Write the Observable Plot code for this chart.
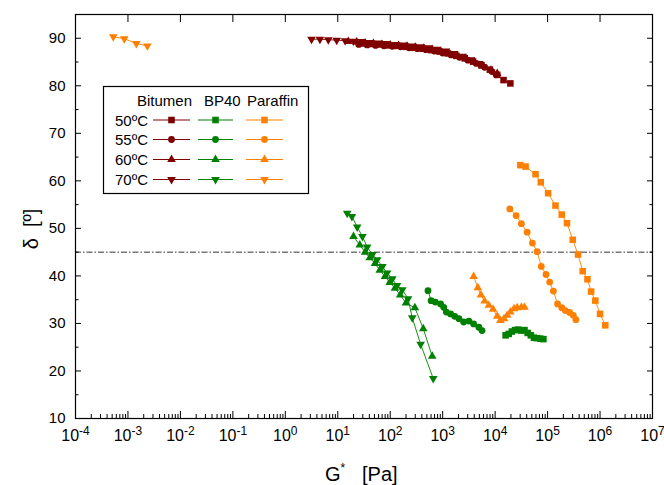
<!DOCTYPE html>
<html><head><meta charset="utf-8">
<script src="https://cdn.jsdelivr.net/npm/d3@7"></script>
<script src="https://cdn.jsdelivr.net/npm/@observablehq/plot@0.6"></script>
<style>
body{margin:0;background:#fff;font-family:"Liberation Sans",Arial,sans-serif;}
#chart{position:relative;width:664px;height:485px;}
</style></head><body><div id="chart"></div>
<script>
const materials = ["Bitumen", "BP40", "Paraffin"];
const temperatures = ["50ºC", "55ºC", "60ºC", "70ºC"];
const materialColors = ["#800000", "#008000", "#ff8000"];

// log10(G* [Pa]) and phase angle δ [º]
const bit50_logG = [1.50,1.66,1.82,1.98,2.14,2.30,2.46,2.62,2.78,2.94,3.10,3.26,3.42,3.58,3.74,3.90,4.04,4.16,4.29];
const bit50_delta = [88.9,88.8,88.7,88.5,88.4,88.2,88.0,87.8,87.5,87.2,86.8,86.3,85.8,85.1,84.3,83.4,82.3,81.2,80.5];
const bit55_logG = [1.40,1.56,1.72,1.88,2.04,2.20,2.36,2.52,2.68,2.84,3.00,3.16,3.32,3.48,3.64,3.80,3.94,4.02];
const bit55_delta = [88.7,88.6,88.5,88.4,88.3,88.2,88.0,87.8,87.6,87.3,86.9,86.5,86.0,85.4,84.7,83.9,83.0,82.3];
const bit60_logG = [1.20,1.36,1.52,1.68,1.84,2.00,2.16,2.32,2.48,2.64,2.80,2.96,3.12,3.28,3.44,3.60,3.76,3.92,4.04];
const bit60_delta = [89.3,89.2,89.0,88.9,88.7,88.6,88.5,88.3,88.1,87.9,87.6,87.2,86.8,86.3,85.7,85.0,84.2,83.3,82.6];
const bit70_logG = [0.50,0.66,0.82,0.98,1.14,1.30,1.46,1.62,1.78,1.94,2.10,2.26,2.42,2.58,2.74,2.90,3.06,3.22,3.38,3.54,3.70];
const bit70_delta = [89.8,89.8,89.7,89.6,89.5,89.4,89.3,89.1,89.0,88.9,88.7,88.6,88.4,88.2,88.0,87.7,87.3,86.8,86.2,85.5,84.7];

const bp50_logG = [4.20,4.26,4.32,4.38,4.44,4.50,4.56,4.62,4.68,4.74,4.80,4.86,4.92];
const bp50_delta = [27.5,27.8,28.3,28.6,28.7,28.5,28.6,28.0,27.5,27.0,26.9,26.8,26.7];
const bp55_logG = [2.72,2.78,2.86,2.96,3.02,3.07,3.15,3.23,3.31,3.40,3.50,3.59,3.69,3.75];
const bp55_delta = [36.9,34.8,34.5,34.1,33.4,32.4,32.0,31.5,31.0,30.3,30.5,29.9,29.2,28.5];
const bp60_logG = [1.30,1.42,1.52,1.61,1.71,1.80,1.90,1.99,2.09,2.19,2.30,2.47,2.63,2.80];
const bp60_delta = [48.3,46.5,45.0,43.8,42.6,41.2,39.9,38.6,37.4,36.0,34.3,33.3,28.9,23.1];
const bp70_logG = [1.18,1.27,1.37,1.47,1.56,1.66,1.75,1.85,1.94,2.04,2.13,2.23,2.34,2.42,2.58,2.82];
const bp70_delta = [53.2,52.5,50.3,48.3,46.1,44.5,43.4,42.0,40.6,39.4,38.0,37.1,35.2,31.2,25.6,18.4];

const par50_logG = [4.48,4.58,4.77,4.87,5.01,5.15,5.27,5.37,5.48,5.58,5.67,5.76,5.83,5.91,6.00,6.10];
const par50_delta = [63.3,63.0,61.4,59.7,57.4,54.8,52.9,51.1,47.6,44.5,41.0,39.3,36.7,34.8,32.0,29.6];
const par55_logG = [4.28,4.40,4.50,4.61,4.71,4.80,4.88,4.97,5.04,5.11,5.19,5.27,5.34,5.42,5.49,5.54];
const par55_delta = [54.1,52.7,51.0,49.2,46.9,45.1,42.0,40.3,38.7,36.8,34.1,33.3,32.7,32.3,31.7,30.8];
const par60_logG = [3.59,3.67,3.73,3.80,3.88,3.96,4.04,4.10,4.17,4.23,4.29,4.36,4.42,4.50,4.56];
const par60_delta = [39.9,37.5,36.0,34.7,33.8,33.0,31.5,30.6,31.0,31.7,32.4,33.1,33.3,33.4,33.4];
const par70_logG = [-3.28,-3.07,-2.84,-2.63];
const par70_delta = [90.3,89.9,88.9,88.4];

const xMajorExp = [-4,-3,-2,-1,0,1,2,3,4,5,6,7];
const yMajor = [10,20,30,40,50,60,70,80,90];
const yMinor = [15,25,35,45,55,65,75,85,95];
const crossoverDelta = 45;
const xLabel = "G";
const xLabelSup = "*";
const xLabelUnit = "[Pa]";
const yLabel = "δ  [º]";

const seriesTable = [
  [0,0,bit50_logG,bit50_delta],[0,1,bit55_logG,bit55_delta],[0,2,bit60_logG,bit60_delta],[0,3,bit70_logG,bit70_delta],
  [1,0,bp50_logG,bp50_delta],[1,1,bp55_logG,bp55_delta],[1,2,bp60_logG,bp60_delta],[1,3,bp70_logG,bp70_delta],
  [2,0,par50_logG,par50_delta],[2,1,par55_logG,par55_delta],[2,2,par60_logG,par60_delta],[2,3,par70_logG,par70_delta]
];
const rows = [];
for (const [m, t, lg, dl] of seriesTable) {
  lg.forEach((v, i) => rows.push({
    material: materials[m], temp: temperatures[t], tIndex: t,
    series: materials[m] + " " + temperatures[t],
    color: materialColors[m], G: Math.pow(10, v), delta: dl[i]
  }));
}

const symbolSpecs = [
  {symbol: "square", r: 3.7, rotate: 0},
  {symbol: "circle", r: 3.4, rotate: 0},
  {symbol: "triangle", r: 3.2, rotate: 0},
  {symbol: "triangle", r: 3.2, rotate: 180}
];

const xMajor = xMajorExp.map(e => Math.pow(10, e));
const xMinor = [];
for (const e of xMajorExp.slice(0, -1)) for (let k = 2; k <= 9; k++) xMinor.push(k * Math.pow(10, e));

const noText = () => "";
const plot = Plot.plot({
  width: 664, height: 485,
  marginLeft: 75, marginRight: 12, marginTop: 14, marginBottom: 67,
  style: {fontFamily: "'Liberation Sans', Arial, sans-serif", fontSize: "15px", background: "white", color: "black", overflow: "visible"},
  x: {type: "log", domain: [1e-4, 1e7]},
  y: {domain: [10, 95]},
  color: {type: "identity"},
  marks: [
    Plot.ruleY([crossoverDelta], {stroke: "#333", strokeWidth: 1, strokeDasharray: "6,2,1.5,2"}),
    Plot.line(rows, {x: "G", y: "delta", z: "series", stroke: "color", strokeWidth: 0.9}),
    ...symbolSpecs.map((s, i) => Plot.dot(rows.filter(d => d.tIndex === i), {
      x: "G", y: "delta", fill: "color", stroke: null, symbol: s.symbol, r: s.r, rotate: s.rotate
    })),
    Plot.frame({stroke: "black", strokeWidth: 1.2}),
    Plot.axisX({anchor: "bottom", ticks: xMajor, tickSize: -7, tickFormat: noText, label: null}),
    Plot.axisX({anchor: "bottom", ticks: xMinor, tickSize: -4, tickFormat: noText, label: null}),
    Plot.axisX({anchor: "top", ticks: xMajor, tickSize: -7, tickFormat: noText, label: null}),
    Plot.axisX({anchor: "bottom", ticks: xMajor, tickSize: 0, tickPadding: 11, fontSize: 16, tickFormat: d => "10^" + Math.round(Math.log10(d)), label: null}),
    Plot.axisY({anchor: "left", ticks: yMajor, tickSize: -6, tickFormat: noText, label: null}),
    Plot.axisY({anchor: "left", ticks: yMinor, tickSize: -3.5, tickFormat: noText, label: null}),
    Plot.axisY({anchor: "right", ticks: yMajor, tickSize: -6, tickFormat: noText, label: null}),
    Plot.axisY({anchor: "right", ticks: yMinor, tickSize: -3.5, tickFormat: noText, label: null}),
    Plot.axisY({anchor: "left", ticks: yMajor, tickSize: 0, tickPadding: 10, fontSize: 15, label: null})
  ]
});
document.getElementById("chart").appendChild(plot);

const svg = d3.select(plot);
// superscript exponents on x tick labels
svg.selectAll('g[aria-label="x-axis tick label"] text').each(function () {
  const m = /^10\^(-?\d+)$/.exec(this.textContent);
  if (!m) return;
  const t = d3.select(this);
  t.text("10");
  t.append("tspan").attr("dy", "-0.5em").attr("font-size", "12px").text(m[1]);
});

// axis titles
const xt = svg.append("text").attr("x", 325).attr("y", 481).attr("font-size", "20px")
  .attr("fill", "black").attr("text-anchor", "start");
xt.append("tspan").text(xLabel);
xt.append("tspan").attr("dy", -9).attr("font-size", "12px").text(xLabelSup);
xt.append("tspan").attr("x", 362).attr("dy", 9).text(xLabelUnit);
svg.append("text").attr("transform", "translate(38,229) rotate(-90)").attr("text-anchor", "middle")
  .attr("font-size", "20px").attr("fill", "black").style("white-space", "pre").text(yLabel);

// legend
const lg = svg.append("g").attr("font-size", "15px").attr("text-anchor", "start");
lg.append("rect").attr("x", 103.5).attr("y", 86.5).attr("width", 205).attr("height", 107)
  .attr("fill", "white").attr("stroke", "black").attr("stroke-width", 1.2);
const colX = [[153, 190], [198, 233], [246, 283]];
const headerX = [137, 204, 247];
materials.forEach((m, j) => lg.append("text").attr("x", headerX[j]).attr("y", 106).text(m));
const rowY = [120, 139.5, 159.5, 179.5];
temperatures.forEach((t, i) => {
  lg.append("text").attr("x", 115).attr("y", rowY[i] + 5.5).text(t);
  materials.forEach((m, j) => {
    const [a, b] = colX[j];
    lg.append("line").attr("x1", a).attr("x2", b).attr("y1", rowY[i]).attr("y2", rowY[i])
      .attr("stroke", materialColors[j]).attr("stroke-width", 1.2);
    const s = symbolSpecs[i];
    const sym = {square: d3.symbolSquare, circle: d3.symbolCircle, triangle: d3.symbolTriangle}[s.symbol];
    lg.append("path").attr("d", d3.symbol(sym, Math.PI * s.r * s.r)())
      .attr("transform", `translate(${(a + b) / 2},${rowY[i]}) rotate(${s.rotate})`)
      .attr("fill", materialColors[j]);
  });
});
</script>
</body></html>
